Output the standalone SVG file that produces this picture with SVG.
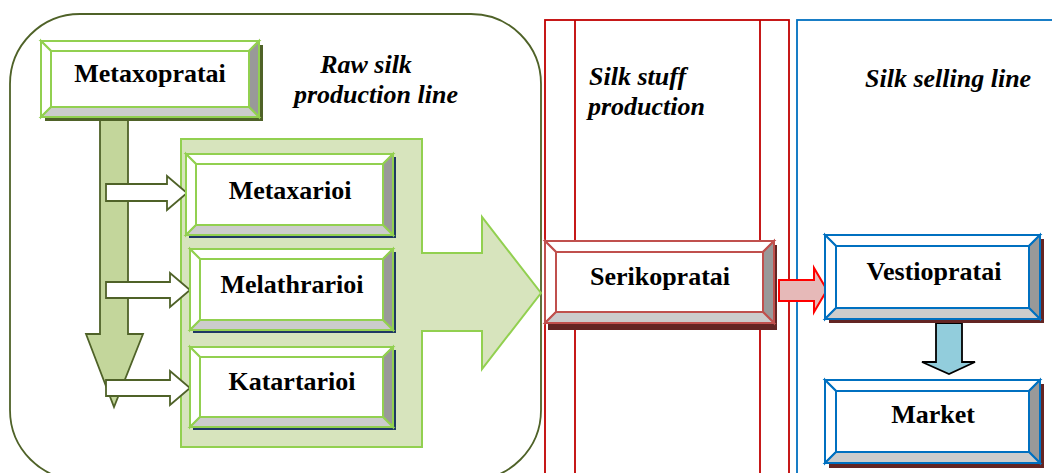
<svg xmlns="http://www.w3.org/2000/svg" width="1052" height="473" viewBox="0 0 1052 473">
<style>
text{font-family:'Liberation Serif','Times New Roman','DejaVu Serif',serif;font-weight:bold;fill:#000}
.lbl{font-size:26px;text-anchor:middle}
.it{font-size:26px;font-style:italic}
.g{stroke:#92d050;stroke-width:2;stroke-linejoin:miter}
.r{stroke:#c0504d;stroke-width:2}
.b{stroke:#0070c0;stroke-width:2}
.w{fill:#fff}
.dk{fill:#999}
.lt{fill:#ccc}
</style>
<rect width="1052" height="473" fill="#fff"/>
<g id="lanes" fill="none">
<rect x="10" y="14" width="531" height="466" rx="70" ry="70" stroke="#4f6228" stroke-width="1.8"/>
<rect x="545" y="20" width="244" height="470" stroke="#c00000" stroke-width="1.8"/>
<line x1="575" y1="20" x2="575" y2="473" stroke="#c00000" stroke-width="1.8"/>
<line x1="760" y1="20" x2="760" y2="473" stroke="#c00000" stroke-width="1.8"/>
<rect x="797" y="20" width="300" height="470" stroke="#0070c0" stroke-width="1.8"/>
</g>
<g id="labels">
<text class="it" x="366" y="73" text-anchor="middle">Raw silk</text>
<text class="it" x="376" y="103" text-anchor="middle">production line</text>
<text class="it" x="589" y="85">Silk stuff</text>
<text class="it" x="588" y="115">production</text>
<text class="it" x="865" y="87">Silk selling line</text>
</g>
<g id="connectors">
<polygon points="181,139 422,139 422,253 482,253 482,217 541,293 482,369 482,331 422,331 422,447 181,447" fill="#d7e4bd" stroke="#92d050" stroke-width="2"/>
<polygon points="100,118 128,118 128,334 143,334 114,407 86,334 100,334" fill="#c3d69b" stroke="#4f6228" stroke-width="1.8"/>
<g fill="#fff" stroke="#4f6228" stroke-width="1.8">
<polygon points="106,184 167,184 167,176 187,193 167,210 167,201 106,201"/>
<polygon points="106,282 170,282 170,273 190,290 170,307 170,298 106,298"/>
<polygon points="106,380 170,380 170,371 190,388 170,405 170,396 106,396"/>
</g>
<polygon points="779,280 814,280 814,268 827,290 814,312 814,301 779,301" fill="#e6b9b8" stroke="#ff0000" stroke-width="2"/>
<polygon points="936,323 962,323 962,362 975,362 949,374 922,362 936,362" fill="#92cddc" stroke="#000" stroke-width="1.8"/>
</g>
<g id="n-metaxopratai">
<rect x="45" y="45" width="218" height="76" fill="#4f6228"/>
<rect x="41" y="41" width="218" height="76" class="w g"/>
<polygon points="41,41 259,41 249,51 51,51" class="w g"/>
<polygon points="41,41 51,51 51,107 41,117" class="w g"/>
<polygon points="259,41 259,117 249,107 249,51" class="dk g"/>
<polygon points="41,117 259,117 249,107 51,107" class="lt g"/>
<rect x="51" y="51" width="198" height="56" class="w g"/>
<text class="lbl" x="150" y="82">Metaxopratai</text>
</g>
<g id="n-metaxarioi">
<rect x="189" y="157" width="207" height="81" fill="#1f3864"/>
<rect x="186" y="154" width="207" height="81" class="w g"/>
<polygon points="186,154 393,154 383,164 196,164" class="w g"/>
<polygon points="186,154 196,164 196,225 186,235" class="w g"/>
<polygon points="393,154 393,235 383,225 383,164" class="dk g"/>
<polygon points="186,235 393,235 383,225 196,225" class="lt g"/>
<rect x="196" y="164" width="187" height="61" class="w g"/>
<text class="lbl" x="290" y="199">Metaxarioi</text>
</g>
<g id="n-melathrarioi">
<rect x="193" y="252" width="203" height="81" fill="#1f3864"/>
<rect x="190" y="249" width="203" height="81" class="w g"/>
<polygon points="190,249 393,249 383,259 200,259" class="w g"/>
<polygon points="190,249 200,259 200,320 190,330" class="w g"/>
<polygon points="393,249 393,330 383,320 383,259" class="dk g"/>
<polygon points="190,330 393,330 383,320 200,320" class="lt g"/>
<rect x="200" y="259" width="183" height="61" class="w g"/>
<text class="lbl" x="292" y="293">Melathrarioi</text>
</g>
<g id="n-katartarioi">
<rect x="193" y="350" width="203" height="80" fill="#1f3864"/>
<rect x="190" y="347" width="203" height="80" class="w g"/>
<polygon points="190,347 393,347 383,357 200,357" class="w g"/>
<polygon points="190,347 200,357 200,417 190,427" class="w g"/>
<polygon points="393,347 393,427 383,417 383,357" class="dk g"/>
<polygon points="190,427 393,427 383,417 200,417" class="lt g"/>
<rect x="200" y="357" width="183" height="60" class="w g"/>
<text class="lbl" x="292" y="390">Katartarioi</text>
</g>
<g id="n-serikopratai">
<rect x="548" y="245" width="229" height="85" fill="#632523"/>
<rect x="545" y="241" width="229" height="82" class="w r"/>
<polygon points="545,241 774,241 763,252 556,252" class="w r"/>
<polygon points="545,241 556,252 556,312 545,323" class="w r"/>
<polygon points="774,241 774,323 763,312 763,252" class="dk r"/>
<polygon points="545,323 774,323 763,312 556,312" class="lt r"/>
<rect x="556" y="252" width="207" height="60" class="w r"/>
<text class="lbl" x="660" y="285">Serikopratai</text>
</g>
<g id="n-vestiopratai">
<rect x="829" y="239" width="215" height="84" fill="#632523"/>
<rect x="825" y="235" width="215" height="84" class="w b"/>
<polygon points="825,235 1040,235 1029,246 836,246" class="w b"/>
<polygon points="825,235 836,246 836,308 825,319" class="w b"/>
<polygon points="1040,235 1040,319 1029,308 1029,246" class="dk b"/>
<polygon points="825,319 1040,319 1029,308 836,308" class="lt b"/>
<rect x="836" y="246" width="193" height="62" class="w b"/>
<text class="lbl" x="934" y="280">Vestiopratai</text>
</g>
<g id="n-market">
<rect x="829" y="384" width="215" height="84" fill="#632523"/>
<rect x="825" y="380" width="215" height="83" class="w b"/>
<polygon points="825,380 1040,380 1029,391 836,391" class="w b"/>
<polygon points="825,380 836,391 836,452 825,463" class="w b"/>
<polygon points="1040,380 1040,463 1029,452 1029,391" class="dk b"/>
<polygon points="825,463 1040,463 1029,452 836,452" class="lt b"/>
<rect x="836" y="391" width="193" height="61" class="w b"/>
<text class="lbl" x="933" y="423">Market</text>
</g>
</svg>
